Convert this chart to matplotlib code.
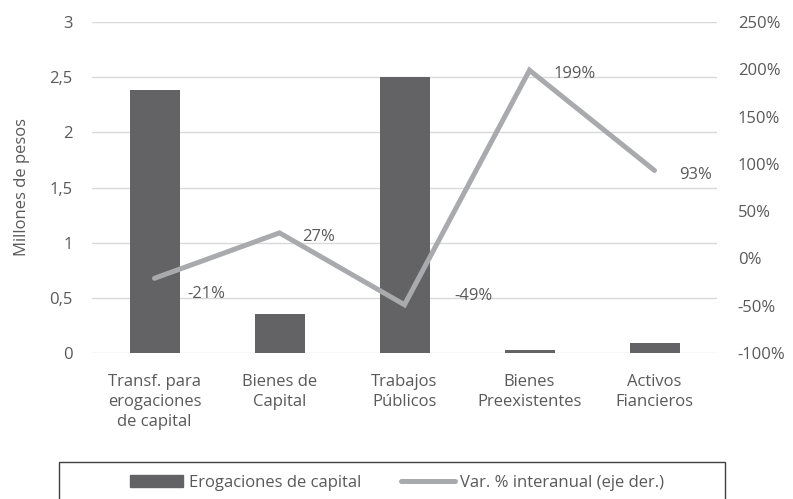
import matplotlib.pyplot as plt
from matplotlib.patches import Rectangle
from matplotlib.lines import Line2D
from matplotlib.ticker import FuncFormatter

plt.rcParams['font.family'] = ['Open Sans', 'DejaVu Sans']

# Datos
categorias = ["Transf. para\nerogaciones\nde capital", "Bienes de\nCapital",
              "Trabajos\nPúblicos", "Bienes\nPreexistentes", "Activos\nFiancieros"]
erogaciones = [2.38, 0.35, 2.50, 0.03, 0.09]
var_interanual = [-21, 27, -49, 199, 93]
etiquetas_var = ["-21%", "27%", "-49%", "199%", "93%"]

# Desplazamiento de las etiquetas (puntos)
offsets = [(24, -11.5), (16, -3), (36, 6.5), (17, -3), (18, -3)]

texto = "#595959"
gris_barra = "#636365"
gris_linea = "#A9AAAD"
grilla = "#D9D9D9"
fs = 12

fig = plt.figure(figsize=(7.93, 4.99), dpi=100)
ax = fig.add_axes([92 / 793, 1 - 353 / 499, 625 / 793, 331 / 499])
ax2 = ax.twinx()

x = range(len(categorias))
ax.bar(x, erogaciones, width=0.4, color=gris_barra, zorder=2)
ax.set_xlim(-0.5, len(categorias) - 0.5)
ax.set_ylim(0, 3)
ax.set_yticks([0, 0.5, 1, 1.5, 2, 2.5, 3])
ax.yaxis.set_major_formatter(FuncFormatter(lambda v, p: f"{v:g}".replace(".", ",")))
ax.grid(axis="y", color=grilla, lw=1, zorder=0)
ax.set_axisbelow(True)
ax.set_xticks(list(x))
ax.set_xticklabels(categorias, linespacing=1.35)
ax.tick_params(axis="x", length=0, pad=15, labelsize=fs, colors=texto)
ax.tick_params(axis="y", length=0, pad=14, labelsize=fs, colors=texto)
ax.set_ylabel("Millones de pesos", fontsize=fs, color=texto, labelpad=14)

ax2.plot(x, var_interanual, color=gris_linea, lw=3.6, solid_capstyle="round",
         solid_joinstyle="miter", zorder=3)
ax2.set_ylim(-100, 250)
ax2.set_yticks(range(-100, 251, 50))
ax2.yaxis.set_major_formatter(FuncFormatter(lambda v, p: f"{v:.0f}%"))
ax2.tick_params(axis="y", length=0, pad=15, labelsize=fs, colors=texto)

for i, (v, lab) in enumerate(zip(var_interanual, etiquetas_var)):
    ax2.annotate(lab, (i, v), xytext=offsets[i], textcoords="offset points",
                 ha="left", va="center", fontsize=fs, color=texto)

for a in (ax, ax2):
    for s in a.spines.values():
        s.set_visible(False)

# Leyenda con recuadro
fig.patches.append(Rectangle((59 / 793, -0.05), 666 / 793, 0.05 + 37 / 499,
                             transform=fig.transFigure, fill=False,
                             ec="#404040", lw=1))
handles = [Rectangle((0, 0), 1, 1, color=gris_barra),
           Line2D([0], [0], color=gris_linea, lw=3.6, solid_capstyle="round")]
fig.legend(handles, ["Erogaciones de capital", "Var. % interanual (eje der.)"],
           loc="center", bbox_to_anchor=(397 / 793, 1 - 483 / 499), ncol=2,
           frameon=False, fontsize=fs, labelcolor=texto, handlelength=3.2,
           handleheight=0.7, columnspacing=2.4, handletextpad=0.35)

fig.savefig("out.png", dpi=100)
